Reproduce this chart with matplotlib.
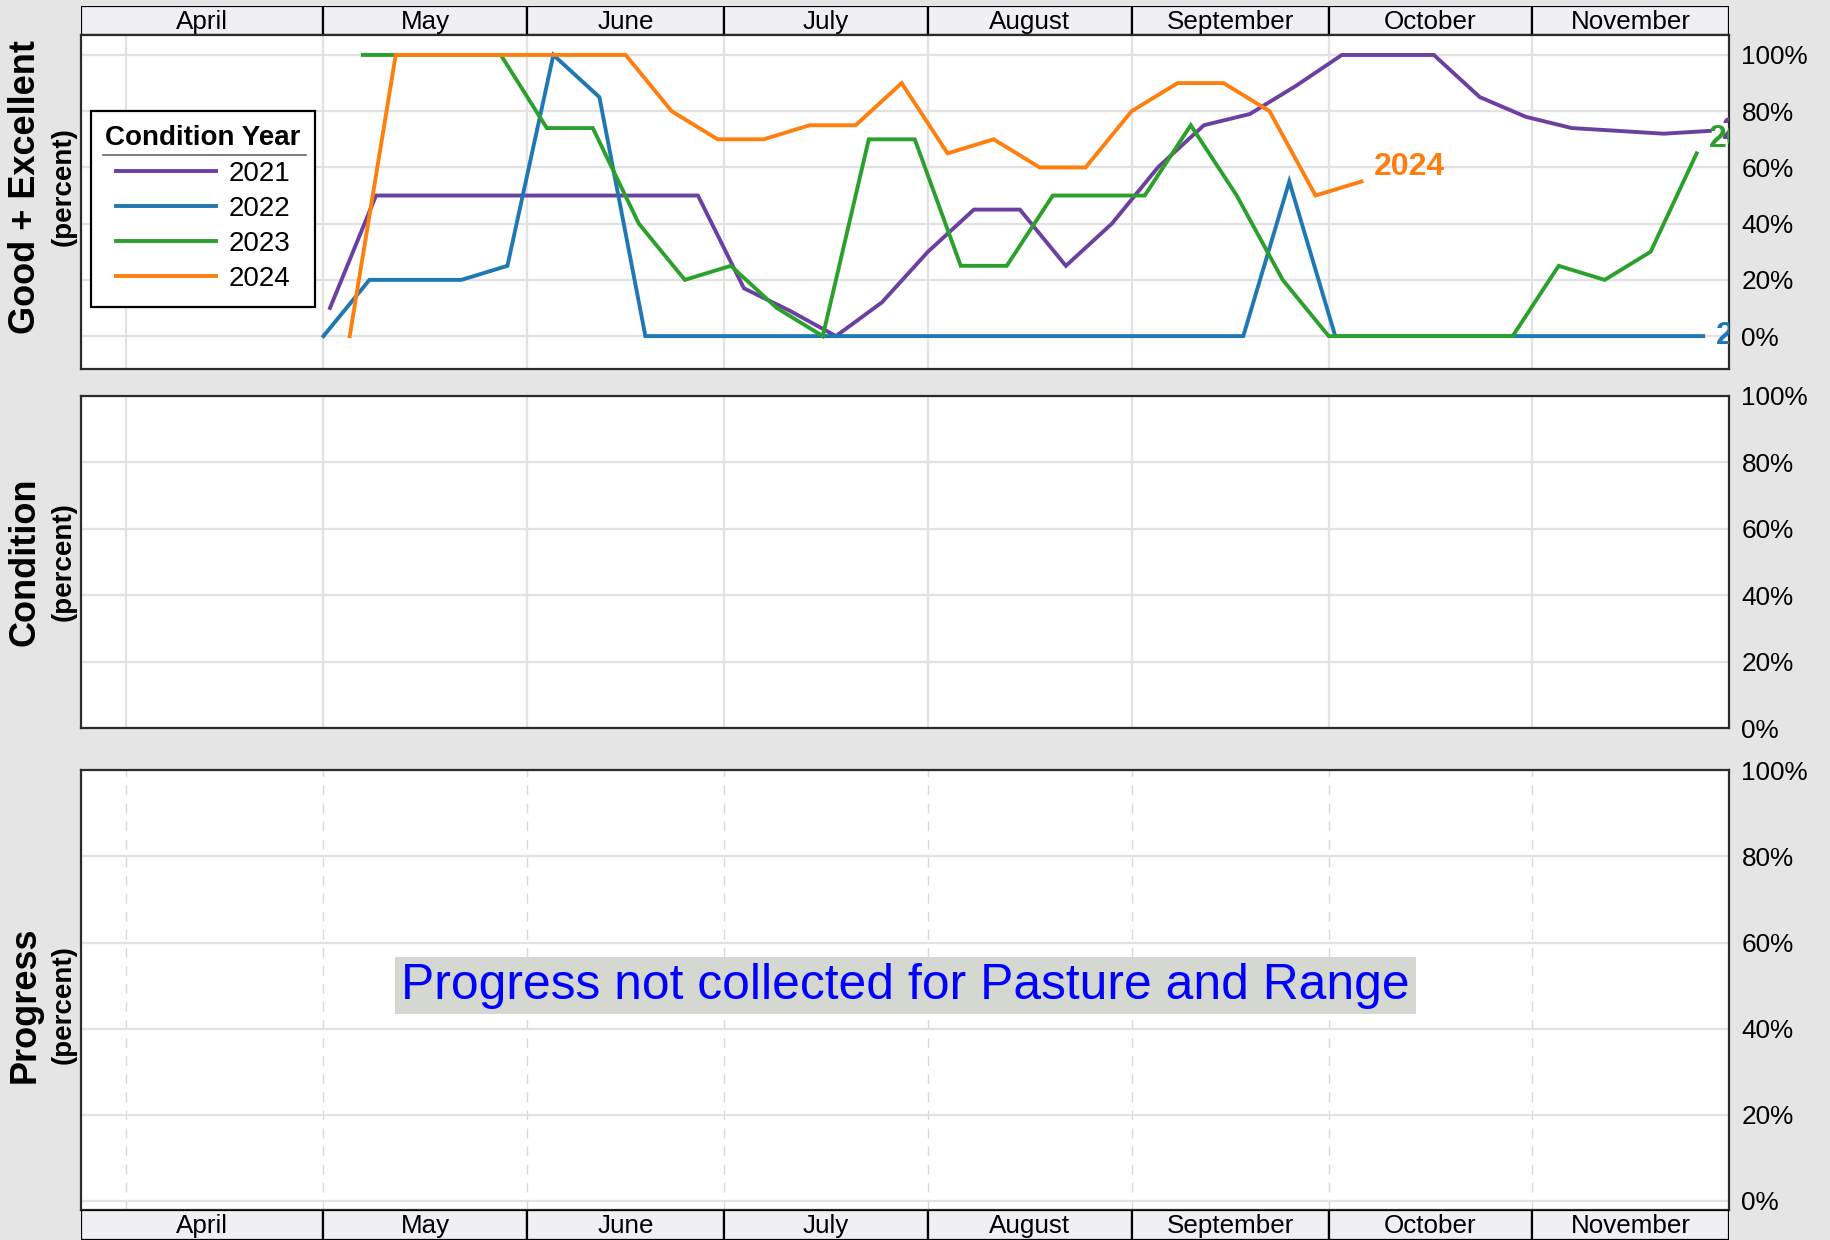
import matplotlib
matplotlib.use('Agg')
import matplotlib.pyplot as plt
import matplotlib.dates as mdates
from matplotlib.lines import Line2D
import pandas as pd

plt.rcParams['font.family'] = ['Liberation Sans', 'DejaVu Sans']

# weekly Good + Excellent (percent), first report week of each year
years = [2021, 2022, 2023, 2024]
first_week = ['2021-05-02', '2022-05-01', '2023-05-07', '2024-05-05']
ge_2021 = [10, 50, 50, 50, 50, 50, 50, 50, 50, 17, 9, 0, 12, 30, 45, 45, 25, 40, 60, 75,
           79, 89, 100, 100, 100, 85, 78, 74, 73, 72, 73]
ge_2022 = [0, 20, 20, 20, 25, 100, 85, 0, 0, 0, 0, 0, 0, 0, 0, 0, 0, 0, 0, 0,
           0, 55, 0, 0, 0, 0, 0, 0, 0, 0, 0]
ge_2023 = [100, 100, 100, 100, 74, 74, 40, 20, 25, 10, 0, 70, 70, 25, 25, 50, 50, 50, 75, 50,
           20, 0, 0, 0, 0, 0, 25, 20, 30, 65]
ge_2024 = [0, 100, 100, 100, 100, 100, 100, 80, 70, 70, 75, 75, 90, 65, 70, 60, 60, 80, 90, 90,
           80, 50, 55]
series = [ge_2021, ge_2022, ge_2023, ge_2024]
colors = ['#6b40a0', '#1f77b4', '#2ca02c', '#ff7f0e']

months = ['April', 'May', 'June', 'July', 'August', 'September', 'October', 'November']
pct_ticks = [0, 20, 40, 60, 80, 100]

# everything is drawn on one common calendar year
base_year = 2021
month_starts = pd.date_range(f'{base_year}-04-01', f'{base_year}-12-01', freq='MS')
x_left = mdates.date2num(pd.Timestamp(f'{base_year}-04-01')) - 6.9
x_right = mdates.date2num(pd.Timestamp(f'{base_year}-12-01'))

bg = '#e5e5e5'
grid_c = '#e2e2e2'
strip_fill = '#efeff4'
frame_c = '#2b2b2b'

fig = plt.figure(figsize=(18.3, 12.4), dpi=100, facecolor=bg)
L, W = 0.04426, 0.90082
ax_strip_top = fig.add_axes([L, 0.97177, W, 0.02363])
ax_ge = fig.add_axes([L, 0.70242, W, 0.26935], sharex=ax_strip_top)
ax_cond = fig.add_axes([L, 0.41266, W, 0.26800], sharex=ax_strip_top)
ax_prog = fig.add_axes([L, 0.02420, W, 0.35444], sharex=ax_strip_top)
ax_strip_bot = fig.add_axes([L, 0.0, W, 0.02420], sharex=ax_strip_top)


def draw_strip(ax):
    edges = [x_left] + [mdates.date2num(d) for d in month_starts[1:]]
    lefts = edges[:-1]
    widths = [b - a for a, b in zip(edges[:-1], edges[1:])]
    ax.bar(lefts, [1] * len(lefts), width=widths, align='edge', color=strip_fill,
           edgecolor='black', linewidth=1.6)
    for a, w, name in zip(lefts, widths, months):
        ax.text(a + w / 2, 0.45, name, ha='center', va='center', fontsize=18.7)
    ax.set_ylim(0, 1)
    ax.set_xlim(x_left, x_right)
    ax.axis('off')


def style_panel(ax, ylim, dashed_x=False):
    ax.set_facecolor('white')
    ax.set_ylim(*ylim)
    ax.set_xlim(x_left, x_right)
    ax.set_xticks(mdates.date2num(month_starts[:-1]))
    ax.tick_params(axis='x', length=0, labelbottom=False)
    ax.yaxis.tick_right()
    ax.set_yticks(pct_ticks)
    ax.set_yticklabels([f'{v}%' for v in pct_ticks])
    ax.tick_params(axis='y', length=0, pad=8.6, labelsize=18.8, right=False, left=False)
    ax.grid(axis='y', color=grid_c, linewidth=1.6)
    if dashed_x:
        ax.grid(axis='x', color='#d9d9d9', linewidth=1.0, linestyle=(0, (7, 6)))
    else:
        ax.grid(axis='x', color=grid_c, linewidth=1.6)
    ax.set_axisbelow(True)
    for s in ax.spines.values():
        s.set_color(frame_c)
        s.set_linewidth(1.6)


draw_strip(ax_strip_top)
draw_strip(ax_strip_bot)

style_panel(ax_ge, (-11.7, 107.1))
style_panel(ax_cond, (0, 100))
style_panel(ax_prog, (-2.2, 100), dashed_x=True)

# Good + Excellent lines
label_nudge = {2021: 0, 2022: 0, 2023: 5, 2024: 5}
for yr, start, vals, c in zip(years, first_week, series, colors):
    dates = pd.date_range(start, periods=len(vals), freq='7D')
    x = [d.replace(year=base_year) for d in dates]
    ax_ge.plot(x, vals, color=c, linewidth=2.8, label=str(yr), solid_joinstyle='miter')
    ax_ge.annotate(str(yr), xy=(mdates.date2num(x[-1]), vals[-1] + label_nudge[yr]),
                   xytext=(9, 0), textcoords='offset points', ha='left', va='center',
                   color=c, fontsize=23, fontweight='bold', annotation_clip=False,
                   clip_on=True)

leg = ax_ge.legend(title='Condition Year', loc='upper left', bbox_to_anchor=(0.0061, 0.7725),
                   borderaxespad=0, fontsize=20, title_fontproperties={'weight': 'bold', 'size': 20},
                   handlelength=3.6, handletextpad=0.45, labelspacing=0.33, frameon=True,
                   fancybox=False, edgecolor='black', framealpha=1, borderpad=0.52)
leg.get_frame().set_linewidth(1.6)
fig.add_artist(Line2D([103 / 1830, 306 / 1830], [1 - 155 / 1240, 1 - 155 / 1240],
                      color='#666666', linewidth=1.2))

ax_prog.text((x_left + x_right) / 2, 50, 'Progress not collected for Pasture and Range',
             ha='center', va='center', fontsize=35.8, color='#0000ff',
             bbox=dict(boxstyle='square,pad=0.12', facecolor='#d5d8d0', edgecolor='none'))

# row titles on the left
for title, yc in [('Good + Excellent', 1 - 187 / 1240), ('Condition', 1 - 562 / 1240),
                  ('Progress', 1 - 1005 / 1240)]:
    fig.text(25.5 / 1830, yc, title, rotation=90, ha='center', va='center',
             fontsize=26, fontweight='bold')
    fig.text(64 / 1830, yc, '(percent)', rotation=90, ha='center', va='center',
             fontsize=20, fontweight='bold')

fig.savefig('out.png', dpi=100, facecolor=bg)
